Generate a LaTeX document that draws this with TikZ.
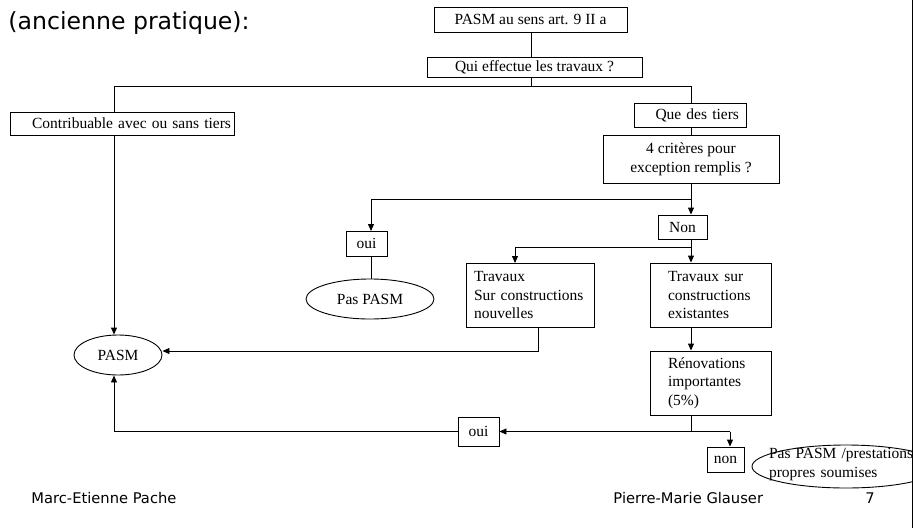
\documentclass[tikz,border=0pt]{standalone}
\usepackage{fontspec}
\setmainfont{Liberation Serif}
\newfontfamily\slidefont{DejaVu Sans}
\newcommand\vakfont{\fontsize{15.5}{18.6}\selectfont}
\usetikzlibrary{calc,shapes.geometric,arrows.meta}
\tikzset{
  % knoopstijlen (vakjes, ovalen, tekst van de dia)
  choice/.style={draw,rectangle,inner sep=0pt,font=\vakfont},
  outcome/.style={draw,ellipse,inner sep=0pt,font=\vakfont},
  void/.style={inner sep=0pt,minimum size=0pt},
  slidetext/.style={void,anchor=base west,font=\slidefont\fontsize{14.7}{17}\selectfont},
  % verbindingen
  flow/.style={-{Triangle[length=7pt,width=6pt]}},
}

\begin{document}
\begin{tikzpicture}[x=1pt,y=-1pt,line width=0.9pt]
  \useasboundingbox (0,0) rectangle (913,528);
  \node[void,anchor=base west,font=\slidefont\fontsize{23.6}{28}\selectfont] (title) at (8,29) {(ancienne pratique):};

  \node[choice,minimum width=193pt,minimum height=25pt] (art9) at (530.5,19.5) {PASM au sens art. 9 II a};
  \node[choice,minimum width=215pt,minimum height=20pt] (qui) at (534.5,67) {Qui effectue les travaux ?};
  \node[choice,inner xsep=3pt,text width=218pt,align=right,minimum height=23pt] (contrib) at (122,123.5) {Contribuable avec ou sans tiers};
  \node[choice,inner xsep=7pt,text width=98pt,align=right,minimum height=24pt] (tiers) at (690,115) {Que des tiers};
  \node[choice,minimum width=176pt,minimum height=48pt,align=center] (crit) at (691,159) {4 critères pour\\exception remplis ?};
  \node[choice,minimum width=49pt,minimum height=24pt] (nonA) at (682.5,227) {Non};
  \node[choice,minimum width=41pt,minimum height=25pt] (ouiA) at (366.5,243.5) {oui};
  \node[outcome,minimum width=128pt,minimum height=40pt] (paspasm) at (370,299) {Pas PASM};
  \node[choice,inner xsep=8pt,text width=112pt,align=left,minimum height=64pt] (nouv) at (530,295) {Travaux\\Sur constructions\\nouvelles};
  \node[choice,inner xsep=18pt,text width=85pt,align=left,minimum height=64pt] (exist) at (710.5,295) {Travaux sur\\constructions\\existantes};
  \node[choice,inner xsep=18pt,text width=85pt,align=left,minimum height=64pt] (renov) at (710.5,383) {Rénovations\\importantes\\(5\%)};
  \node[outcome,minimum width=88pt,minimum height=40pt] (pasm) at (118,355) {PASM};
  \node[choice,minimum width=41pt,minimum height=29pt] (ouiB) at (478.5,431.5) {oui};
  \node[choice,minimum width=37pt,minimum height=25pt] (nonB) at (725.5,459.5) {non};
  \begin{scope}
    \clip (0,0) rectangle (912,528);
    \node[outcome,minimum width=188pt,minimum height=43pt] (propres) at (846,466.5) {};
    \node[void,font=\vakfont,text width=154pt,align=left] (propreslbl) at (846,464.5) {Pas PASM /prestations\\propres soumises};
  \end{scope}

  \coordinate (split) at (531,86);
  \coordinate (left) at (114,86);
  \coordinate (right) at (691,86);
  \coordinate (yes) at (691,199);
  \coordinate (yesin) at (371,231);
  \coordinate (no) at (691,247);
  \coordinate (newin) at (515,263);
  \coordinate (newout) at (538,327);
  \coordinate (renout) at (691,431.5);
  \coordinate (noin) at (730,431.5);

  \draw (art9.south -| split) -- (qui.north -| split);
  \draw (qui.south -| split) -- (split);
  \draw (left |- contrib.north) |- (right) -- (tiers.north -| right);
  \draw[flow] (left |- contrib.south) -- (left |- pasm.north);
  \draw (tiers.south -| right) -- (crit.north -| right);
  \draw[flow] (crit.south -| right) -- (nonA.north -| right);
  \draw[flow] (yes) -| (yesin);
  \draw (yesin |- ouiA.south) -- (yesin |- paspasm.north);
  \draw (nonA.south -| right) -- (no);
  \draw[flow] (no) -| (newin);
  \draw[flow] (no) -- (exist.north -| no);
  \draw[flow] (exist.south -| no) -- (renov.north -| no);
  \draw[flow] (newout) |- ([yshift=4pt]pasm.east);
  \draw (renov.south -| no) -- (renout) -- (noin);
  \draw[flow] (noin) -- (ouiB.east);
  \draw[flow] (noin) -- (noin |- nonB.north);
  \draw[flow] (ouiB.west) -| (left |- pasm.south);

  \draw (912.5,0) -- (912.5,528);

  \node[slidetext] (author1) at (31,503) {Marc-Etienne Pache};
  \node[slidetext] (author2) at (613,503) {Pierre-Marie Glauser};
  \node[slidetext] (page) at (865,503) {7};
\end{tikzpicture}
\end{document}
